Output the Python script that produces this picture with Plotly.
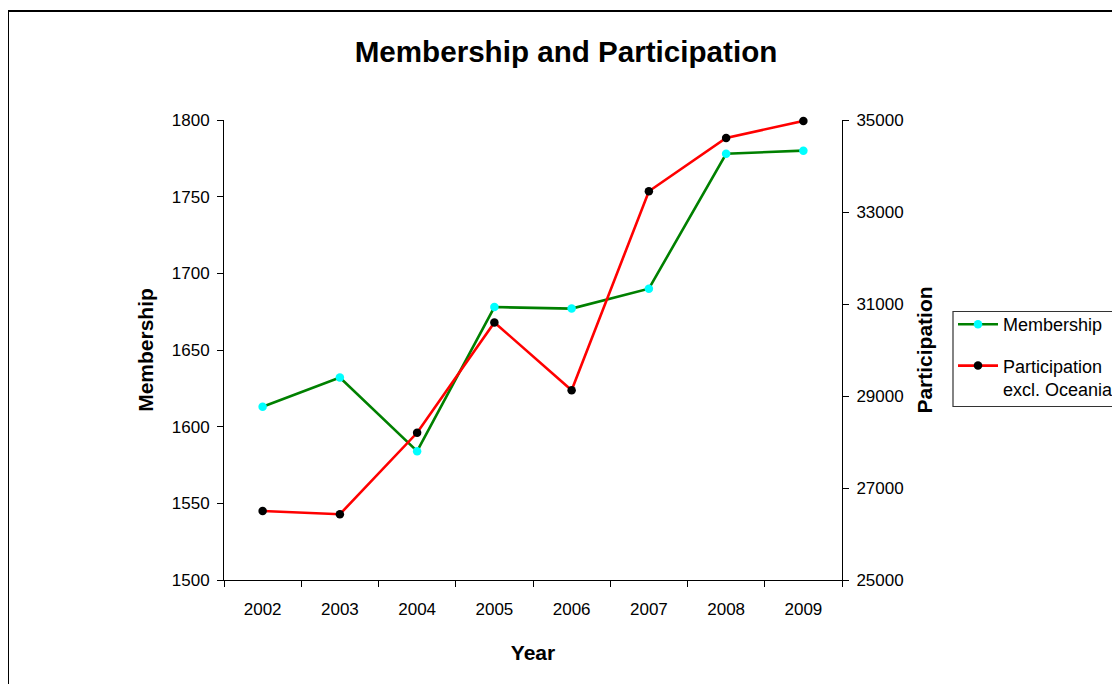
import plotly.graph_objects as go

years = ["2002", "2003", "2004", "2005", "2006", "2007", "2008", "2009"]
membership = [1613, 1632, 1584, 1678, 1677, 1690, 1778, 1780]
participation = [26500, 26430, 28200, 30600, 29125, 33450, 34610, 34980]

FONT = "Liberation Sans, Arial, sans-serif"

# page body has an 8px margin; work in reference pixel coords and shift
OFF = 8
W, H = 1120 - OFF, 684 - OFF
L, R, T, B = 224 - OFF, 842 - OFF, 120 - OFF, 580 - OFF
pw, ph = R - L, B - T


def px_x(x):
    return (x - OFF - L) / pw


def px_y(y):
    return (B - (y - OFF)) / ph


fig = go.Figure()
fig.add_trace(go.Scatter(
    x=years, y=membership, name="Membership", mode="lines+markers",
    line=dict(color="#008000", width=2.6),
    marker=dict(color="#00FFFF", size=8.5, line=dict(width=0)),
    legendgroup="m", yaxis="y", cliponaxis=False,
))
fig.add_trace(go.Scatter(
    x=years, y=participation, name="Participation<br>excl. Oceania", mode="lines+markers",
    line=dict(color="#FF0000", width=2.6),
    marker=dict(color="#000000", size=8.5, line=dict(width=0)),
    legendgroup="p", yaxis="y2", cliponaxis=False,
))

tickcommon = dict(tickcolor="black", showgrid=False, zeroline=False)

fig.update_layout(
    width=W, height=H,
    margin=dict(l=L, r=W - R, t=T, b=H - B, autoexpand=False),
    paper_bgcolor="white", plot_bgcolor="white",
    font=dict(family=FONT, size=17, color="black"),
    title=dict(text="<b>Membership and Participation</b>", x=px_x(566), xref="paper",
               xanchor="center", y=1 - (52 - OFF) / H, yanchor="middle",
               font=dict(size=29.6, family=FONT, color="black")),
    xaxis=dict(
        type="category", showline=True, linecolor="black", linewidth=1,
        ticks="outside", ticklen=6, tickson="boundaries",
        ticklabelstandoff=14, range=[-0.5, 7.5],
        title=dict(text="<b>Year</b>", font=dict(size=21), standoff=26),
        **tickcommon,
    ),
    xaxis2=dict(
        overlaying="x", anchor="y", range=[-0.5, 7.5], tick0=-0.5, dtick=1,
        ticks="inside", ticklen=6, showticklabels=False, showline=False,
        **tickcommon,
    ),
    yaxis=dict(
        range=[1500, 1800], dtick=50, tick0=1500, showline=True, linecolor="black",
        linewidth=1, ticks="outside", ticklen=6, ticklabelstandoff=4,
        title=dict(text="<b>Membership</b>", font=dict(size=21), standoff=12),
        **tickcommon,
    ),
    yaxis3=dict(
        overlaying="y", anchor="x", side="left", range=[1500, 1800], dtick=50,
        tick0=1500, ticks="inside", ticklen=5, showticklabels=False, showline=False,
        **tickcommon,
    ),
    yaxis2=dict(
        range=[25000, 35000], dtick=2000, tick0=25000, overlaying="y", side="right",
        showline=True, linecolor="black", linewidth=1, ticks="outside", ticklen=6,
        ticklabelstandoff=4, tickformat="d",
        title=dict(text="<b>Participation</b>", font=dict(size=21), standoff=14),
        **tickcommon,
    ),
    yaxis4=dict(
        overlaying="y", anchor="x", side="right", range=[25000, 35000], dtick=2000,
        tick0=25000, ticks="inside", ticklen=6, showticklabels=False, showline=False,
        **tickcommon,
    ),
    legend=dict(
        x=px_x(953), y=px_y(306), xanchor="left", yanchor="top",
        borderwidth=0, bgcolor="rgba(0,0,0,0)",
        font=dict(size=18), valign="top", tracegroupgap=15,
        traceorder="grouped", itemwidth=40,
    ),
    showlegend=True,
)

# outer chart border
fig.add_shape(type="rect", xref="paper", yref="paper",
              x0=px_x(8), x1=px_x(1140), y0=px_y(720), y1=px_y(11),
              line=dict(color="black", width=2), fillcolor="rgba(0,0,0,0)", layer="below")
# legend frame
fig.add_shape(type="rect", xref="paper", yref="paper",
              x0=px_x(953), x1=px_x(1140), y0=px_y(406.5), y1=px_y(311.5),
              line=dict(color="#333333", width=1.2), fillcolor="white", layer="below")

fig.write_html("out.html")
